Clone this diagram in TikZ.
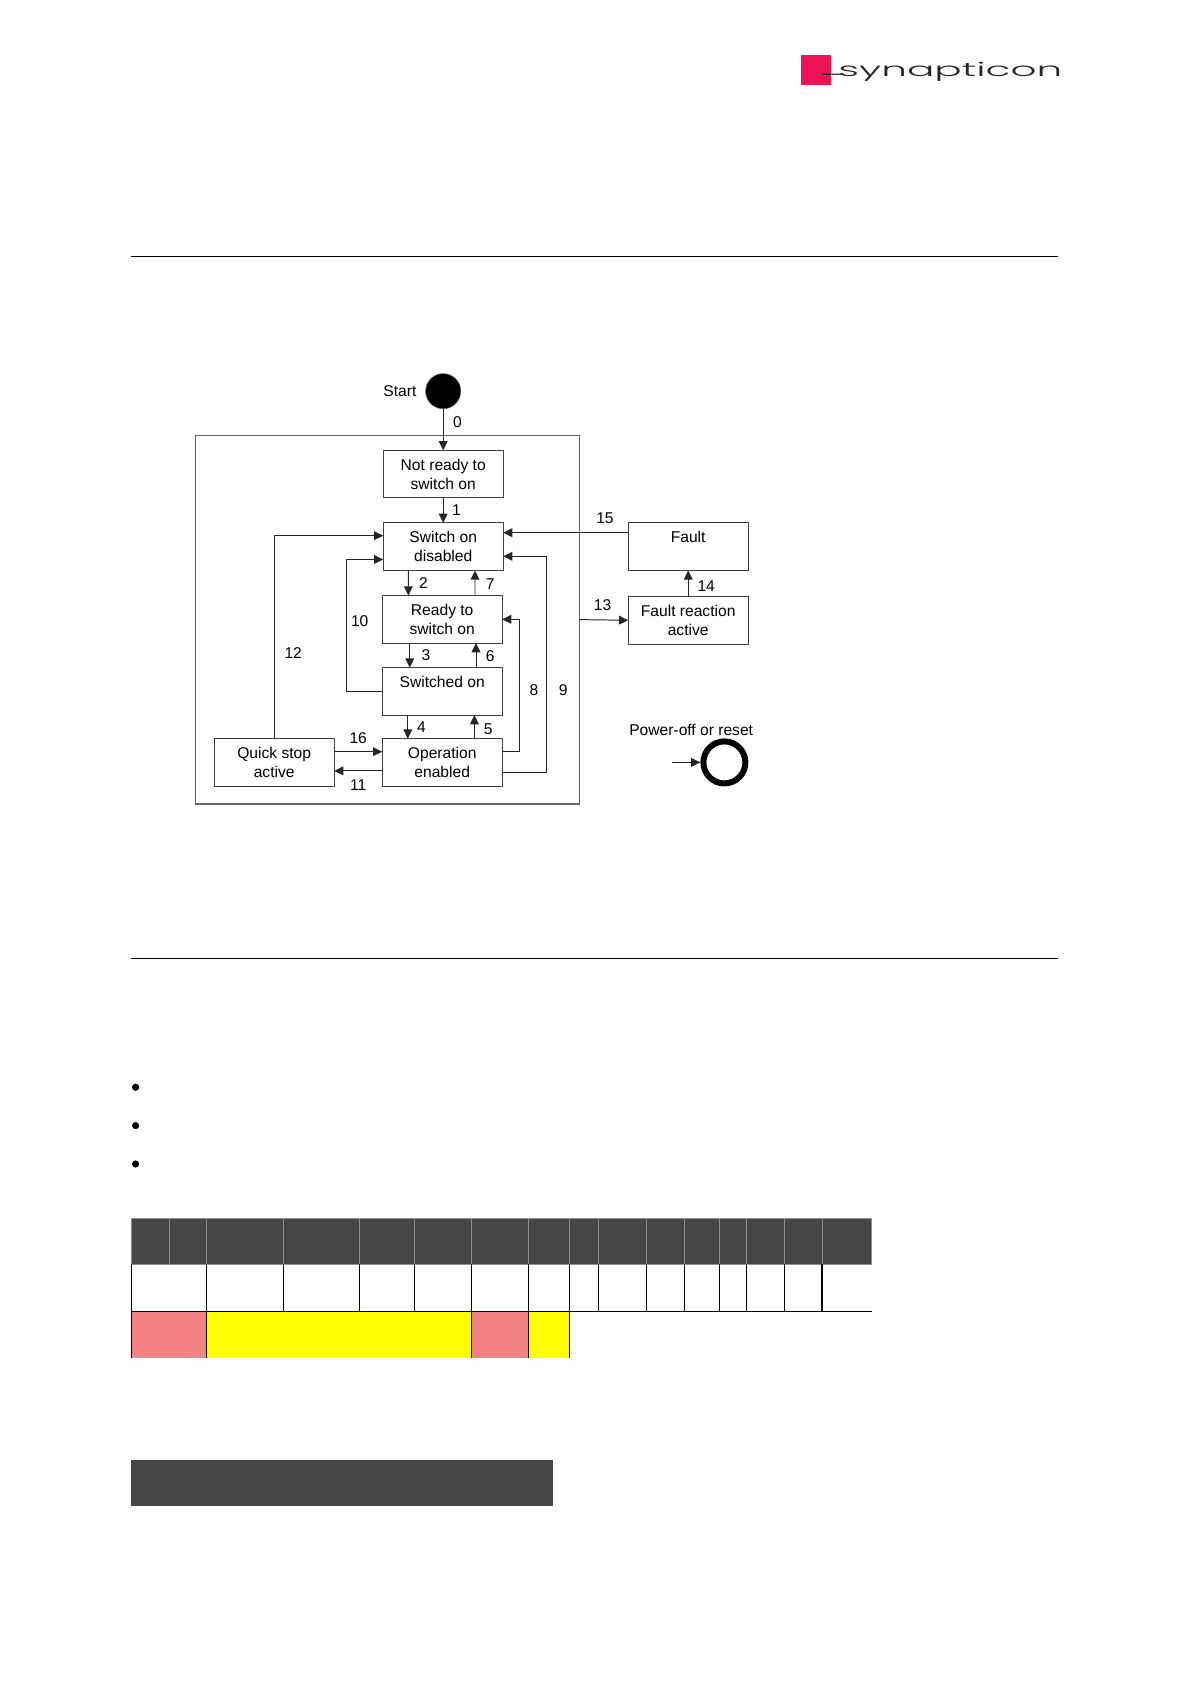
\documentclass[tikz,border=0pt]{standalone}
\usepackage{fontspec}
\setmainfont{Liberation Sans}
\newfontfamily\logofont[UprightFont=* Light]{Poppins}
\usepackage{tikz}
\usetikzlibrary{arrows.meta, positioning}
\usepackage{xcolor}
\definecolor{logopink}{HTML}{EE1153}
\definecolor{headgray}{HTML}{464646}
\definecolor{cellred}{HTML}{F48383}
\definecolor{cellyellow}{HTML}{FFFF00}

\begin{document}
\begin{tikzpicture}[
    node distance=0.625cm,
    every node/.style={font=\fontsize{11.1}{13.3}\selectfont},
    state/.style={
        rectangle,
        draw=black!75,
        line width=0.7pt,
        align=center,
        minimum width=3.0cm,
        minimum height=1.19cm,
        inner sep=1pt,
        outer sep=0pt
    },
    frame/.style={
        rectangle,
        draw=black!60,
        line width=0.8pt,
        minimum width=9.61cm,
        minimum height=9.22cm,
        outer sep=0pt
    },
    arrow/.style={
        -{Triangle[length=2.3mm,width=2.2mm]},
        draw=black!85,
        line width=0.7pt
    },
    num/.style={
        inner sep=0pt
    },
    plain/.style={
        inner sep=0pt
    }
]
\useasboundingbox (0,0) rectangle (29.75,-42.1);

% Page furniture
\fill[logopink] (20.03,-1.375) rectangle (20.78,-2.125);
\node[plain, font=\logofont\fontsize{13.5}{16}\selectfont, xscale=2.14, anchor=base west, black!85] (logo) at (20.45,-1.92) {\raisebox{2pt}{\_}\hspace{-2.5pt}synapticon};

\draw[black, line width=0.6pt] (3.275,-6.42) -- (26.45,-6.42);
\draw[black, line width=0.6pt] (3.275,-23.95) -- (26.45,-23.95);

\foreach \ypos in {-27.18,-28.14,-29.1}
    \fill[black] (3.39,\ypos) circle (0.09);

% Main states
\node[circle, fill=black, draw=black!60, minimum size=0.88cm, inner sep=0pt] (start) at (11.08,-9.78) {};
\node[plain, left=0.215cm of start] (startlabel) {Start};

\node[frame] (box) at (9.69,-15.49) {};

\node[state, below=1.03cm of start] (notready) {Not ready to\\switch on};
\node[state, below=of notready] (disabled) {Switch on\\disabled};
\node[state, below=of disabled, xshift=-0.025cm] (ready) {Ready to\\switch on};
\node[state, below=0.61cm of ready] (switched) {Switched on\\~};
\node[state, below=0.59cm of switched] (enabled) {Operation\\enabled};
\node[state, left=1.2cm of enabled] (quick) {Quick stop\\active};

\node[state, right=3.125cm of disabled] (fault) {Fault\\~};
\node[state, below=0.65cm of fault] (reaction) {Fault reaction\\active};

\node[circle, draw=black, line width=4.27pt, minimum size=1.05cm, inner sep=0pt] (reset) at (18.11,-19.06) {};
\node[plain, above=0.05cm of reset, xshift=-0.83cm] (resetlabel) {Power-off or reset};
\coordinate[left=0.7cm of reset] (resetin);

% Transitions
\draw[arrow] (start.south) -- node[num, pos=0.31, right=6.7pt] {0} (notready.north);
\draw[arrow] (notready.south) -- node[num, right=6pt] {1} (disabled.north);

\draw[arrow] ([xshift=-0.87cm]disabled.south) -- node[num, right=7.3pt] {2} ([xshift=-0.845cm]ready.north);
\draw[arrow] ([xshift=0.82cm]ready.north) -- node[num, pos=0.47, right=7.4pt] {7} ([xshift=0.795cm]disabled.south);
\draw[arrow] ([xshift=-0.81cm]ready.south) -- node[num, right=8.1pt] {3} ([xshift=-0.81cm]switched.north);
\draw[arrow] ([xshift=0.845cm]switched.north) -- node[num, pos=0.45, right=6.7pt] {6} ([xshift=0.845cm]ready.south);
\draw[arrow] ([xshift=-0.86cm]switched.south) -- node[num, right=6.2pt] {4} ([xshift=-0.86cm]enabled.north);
\draw[arrow] ([xshift=0.805cm]enabled.north) -- node[num, pos=0.41, right=6.4pt] {5} ([xshift=0.805cm]switched.south);

\draw[arrow] (switched.west) -- ++(-0.89,0) |- node[num, pos=0.265, right=2.8pt] {10} ([yshift=-0.32cm]disabled.west);
\draw[arrow] (quick.north) |- node[num, pos=0.21, right=7pt] {12} ([yshift=0.275cm]disabled.west);

\draw[arrow] ([yshift=0.27cm]quick.east) -- node[num, above=5.3pt] {16} ([yshift=0.27cm]enabled.west);
\draw[arrow] ([yshift=-0.21cm]enabled.west) -- node[num, below=6pt] {11} ([yshift=-0.21cm]quick.east);

\draw[arrow] ([yshift=0.28cm]enabled.east) -- ++(0.43,0) |- node[num, pos=0.23, right=6.9pt] {8} (ready.east);
\draw[arrow] ([yshift=-0.25cm]enabled.east) -- ++(1.1,0) |- node[num, pos=0.19, right=8.7pt] {9} ([yshift=-0.24cm]disabled.east);

\draw[arrow] ([yshift=0.35cm]fault.west) -- node[num, pos=0.186, above=6.2pt] {15} ([yshift=0.35cm]disabled.east);
\draw[arrow] (box.east) -- node[num, pos=0.47, above=6pt] {13} (reaction.west);
\draw[arrow] (reaction.north) -- node[num, pos=0.41, right=6.3pt] {14} (fault.south);
\draw[arrow] (resetin) -- (reset.west);

% Table rows
\foreach \xa/\xb in {3.275/4.225, 4.225/5.17, 5.17/7.08, 7.08/8.98, 8.98/10.36, 10.36/11.78, 11.78/13.21, 13.21/14.23, 14.23/14.97, 14.97/16.16, 16.16/17.11, 17.11/17.99, 17.99/18.67, 18.67/19.62, 19.62/20.56, 20.56/21.79}
    \filldraw[fill=headgray, draw=black!45, line width=0.6pt] (\xa,-30.46) rectangle (\xb,-31.61);

\foreach \xa in {5.17, 7.08, 8.98, 10.36, 11.78, 13.21, 14.23, 14.97, 16.16, 17.11, 17.99, 18.67, 19.62}
    \draw[black, line width=0.7pt] (\xa,-31.61) -- (\xa,-32.775);
\draw[black, line width=1.3pt] (20.56,-31.61) -- (20.56,-32.775);

\fill[cellred] (3.275,-32.775) rectangle (5.17,-33.94);
\fill[cellyellow] (5.17,-32.775) rectangle (11.78,-33.94);
\fill[cellred] (11.78,-32.775) rectangle (13.21,-33.94);
\fill[cellyellow] (13.21,-32.775) rectangle (14.23,-33.94);
\foreach \xa in {5.17, 11.78, 13.21, 14.23}
    \draw[black, line width=0.7pt] (\xa,-32.775) -- (\xa,-33.94);
\draw[black, line width=0.6pt] (3.275,-31.61) -- (3.275,-33.94);
\draw[black, line width=0.7pt] (3.275,-32.775) -- (21.79,-32.775);

\fill[headgray] (3.275,-36.5) rectangle (13.825,-37.65);

\end{tikzpicture}
\end{document}
